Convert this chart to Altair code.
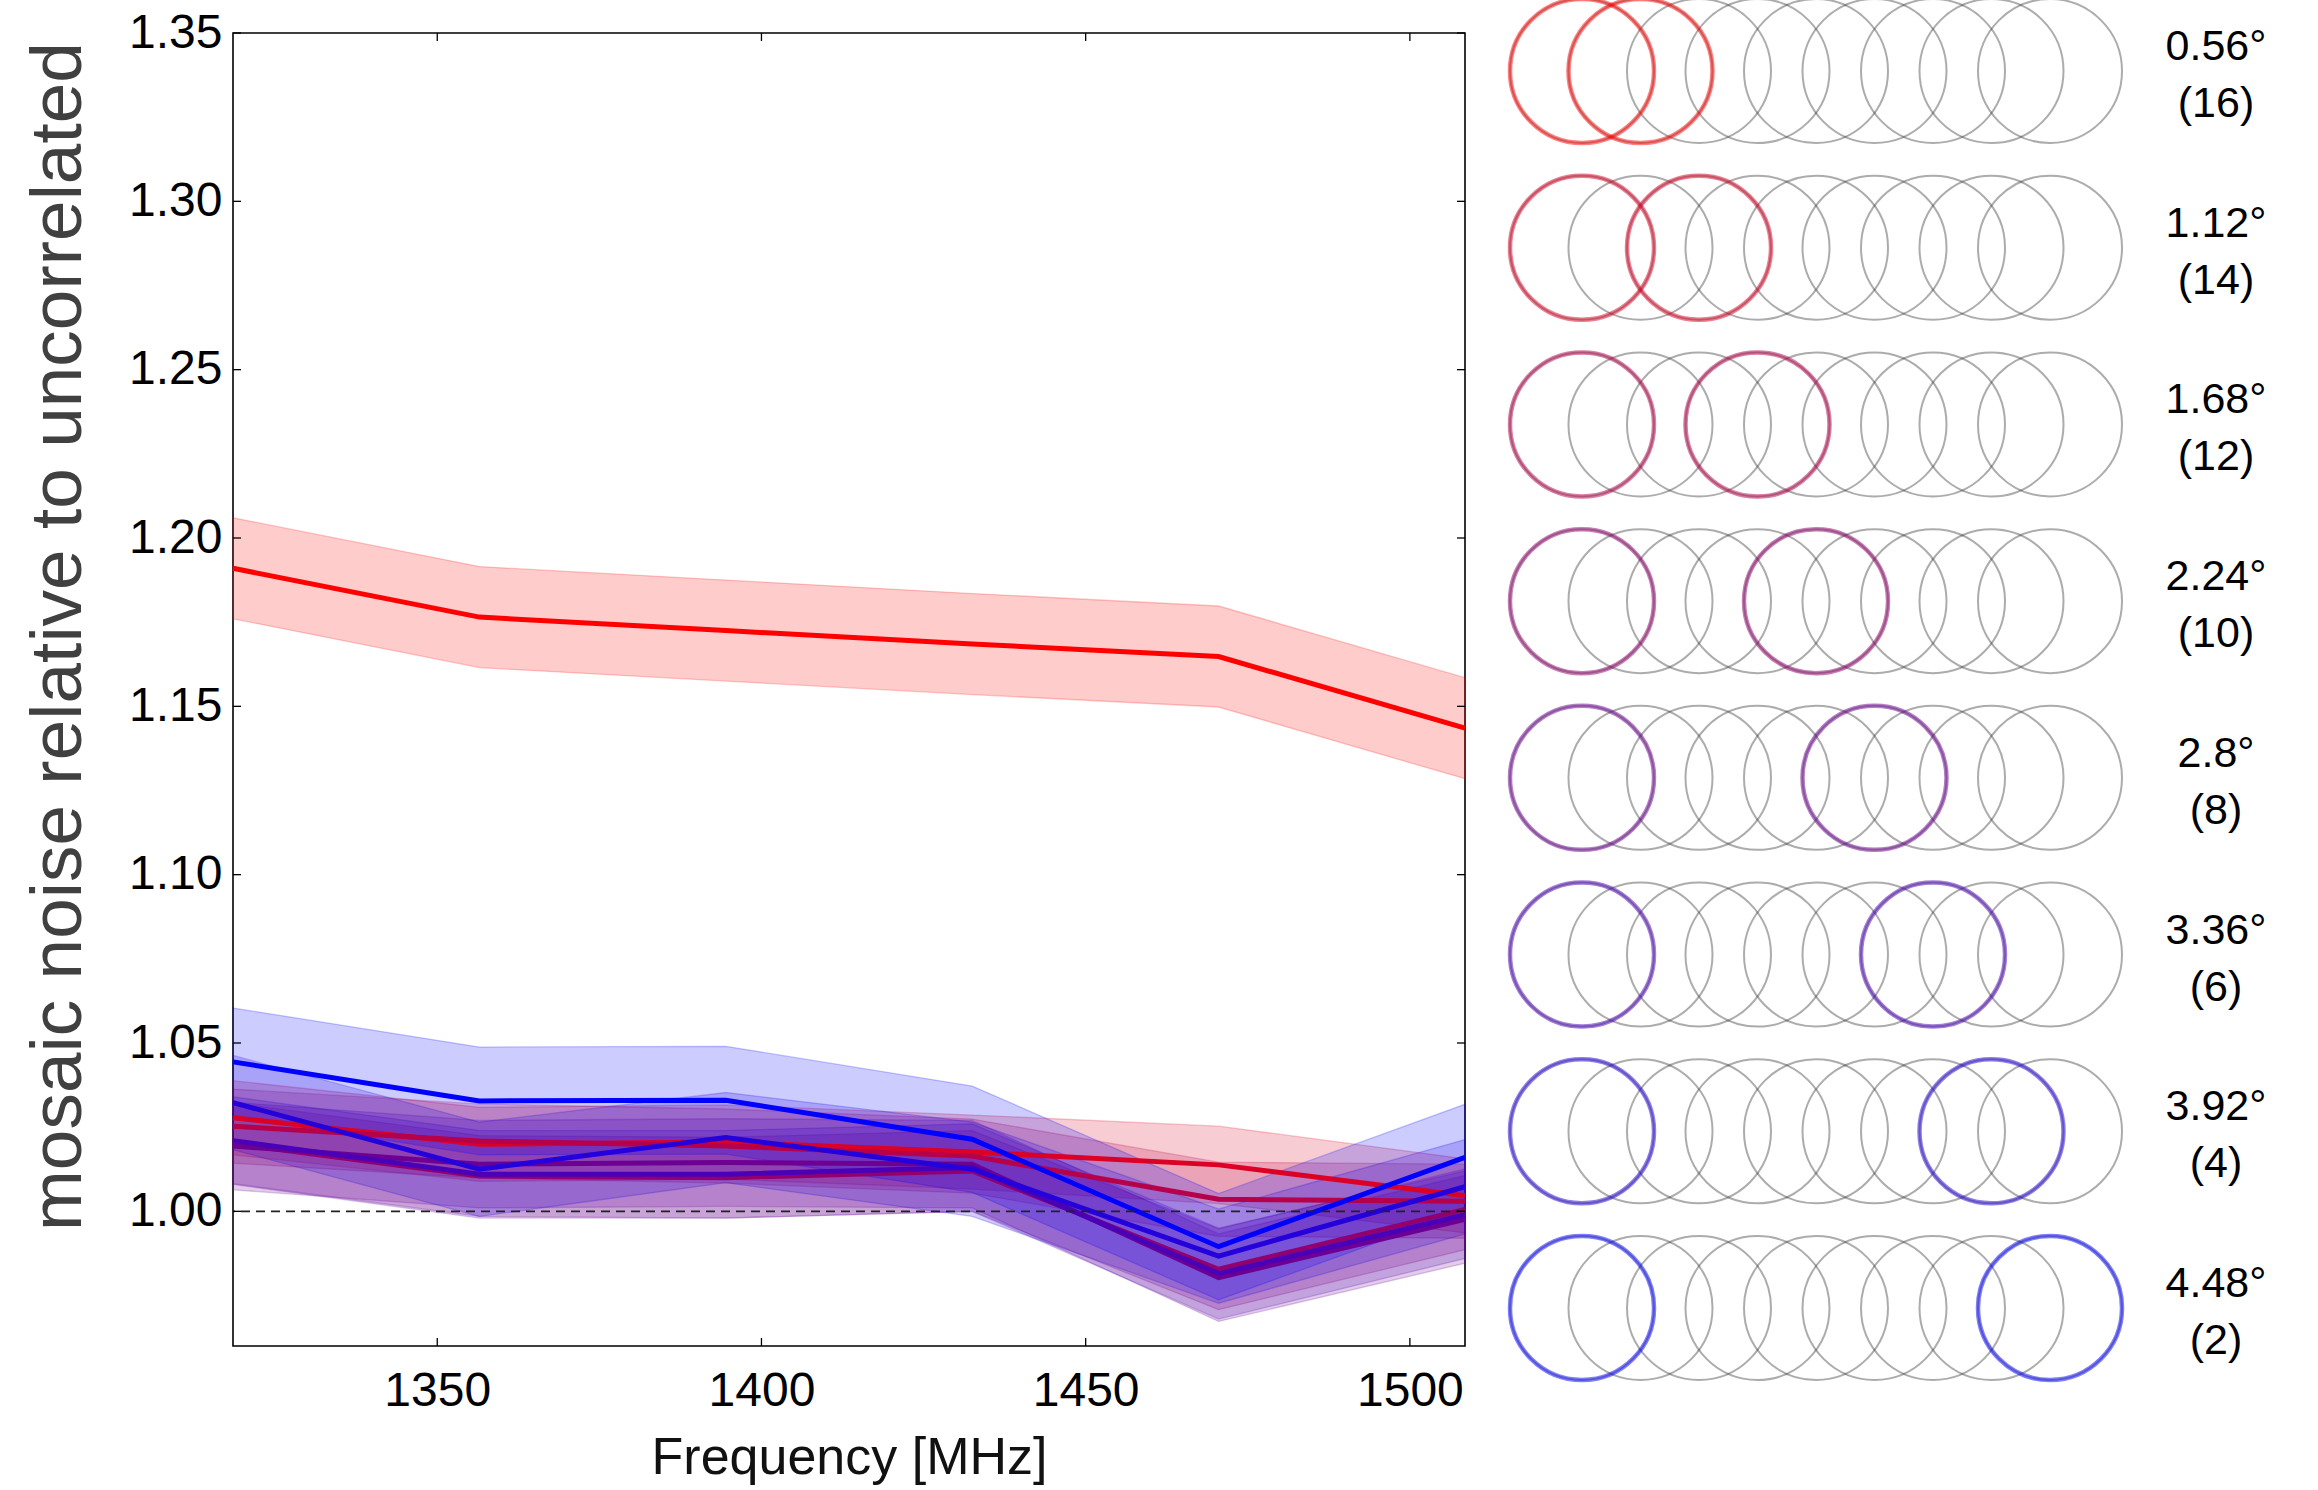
import altair as alt
import pandas as pd

# ---------------- data ----------------
freqs = [1318.5, 1356.5, 1394.5, 1432.5, 1470.5, 1508.5]

separations = ["0.56°", "1.12°", "1.68°", "2.24°", "2.8°", "3.36°", "3.92°", "4.48°"]
pointings = ["(16)", "(14)", "(12)", "(10)", "(8)", "(6)", "(4)", "(2)"]

series_colors = ["#ff0000", "#db0024", "#b60049", "#92006d",
                 "#6d0092", "#4900b6", "#2400db", "#0000ff"]

noise_056 = [1.191, 1.1765, 1.1725, 1.1685, 1.1648, 1.1435]
noise_112 = [1.0278, 1.0199, 1.0206, 1.0176, 1.0138, 1.0046]
noise_168 = [1.0253, 1.0209, 1.0194, 1.0164, 1.0036, 1.0030]
noise_224 = [1.0202, 1.0105, 1.0100, 1.0120, 0.9828, 1.0006]
noise_280 = [1.0194, 1.0140, 1.0145, 1.0140, 0.9803, 0.9976]
noise_336 = [1.0210, 1.0110, 1.0110, 1.0130, 0.9815, 0.9990]
noise_392 = [1.0323, 1.0125, 1.0219, 1.0125, 0.9867, 1.0073]
noise_448 = [1.0444, 1.0328, 1.0330, 1.0214, 0.9895, 1.0160]

err_056 = [0.015, 0.015, 0.015, 0.015, 0.015, 0.015]
err_112 = [0.011, 0.011, 0.011, 0.011, 0.0115, 0.011]
err_168 = [0.011, 0.011, 0.011, 0.011, 0.011, 0.011]
err_224 = [0.012, 0.012, 0.012, 0.012, 0.012, 0.012]
err_280 = [0.013, 0.013, 0.013, 0.013, 0.013, 0.013]
err_336 = [0.013, 0.013, 0.013, 0.013, 0.0135, 0.013]
err_392 = [0.014, 0.014, 0.0134, 0.014, 0.014, 0.014]
err_448 = [0.016, 0.016, 0.016, 0.0158, 0.0158, 0.0158]

noise_series = [noise_056, noise_112, noise_168, noise_224,
                noise_280, noise_336, noise_392, noise_448]
err_series = [err_056, err_112, err_168, err_224,
              err_280, err_336, err_392, err_448]

ytick_values = [1.00, 1.05, 1.10, 1.15, 1.20, 1.25, 1.30, 1.35]
xtick_values = [1350, 1400, 1450, 1500]
reference_level = [1.0]
n_beams = 9

# ---------------- tables ----------------
recs = []
for s, (vals, errs) in enumerate(zip(noise_series, err_series)):
    for f, v, e in zip(freqs, vals, errs):
        recs.append({"sep": separations[s], "order": s, "freq": f,
                     "noise": v, "lo": v - e, "hi": v + e})
df = pd.DataFrame(recs)

ytick_df = pd.DataFrame({"v": ytick_values})
xtick_df = pd.DataFrame({"f": xtick_values})
ref_df = pd.DataFrame({"v": reference_level})

circ_df = pd.DataFrame([{"row": r, "ci": i} for r in range(len(separations))
                        for i in range(n_beams)])
hl_df = pd.DataFrame([{"row": r, "ci": i, "sep": separations[r]}
                      for r in range(len(separations)) for i in (0, r + 1)])
lab_df = pd.DataFrame({"row": list(range(len(separations))),
                       "sep": separations, "count": pointings})

# ---------------- styles ----------------
FONT = "Liberation Sans"
W, H = 1232, 1313

xscale = alt.Scale(domain=[freqs[0], freqs[-1]], nice=False, zero=False)
yscale = alt.Scale(domain=[0.96, 1.35], nice=False, zero=False)
color = alt.Color("sep:N", scale=alt.Scale(domain=separations, range=series_colors),
                  legend=None)
stroke = alt.Stroke("sep:N", scale=alt.Scale(domain=separations, range=series_colors),
                    legend=None)

xaxis = alt.Axis(values=xtick_values, title="Frequency [MHz]", format="d",
                 labelPadding=21, titlePadding=17, labelFlush=False)
yaxis = alt.Axis(values=ytick_values, format=".2f",
                 title="mosaic noise relative to uncorrelated",
                 labelPadding=11, titlePadding=33, titleColor="#404040",
                 titleFontSize=73, titleY=603)

X = lambda f: alt.X(f, scale=xscale, axis=xaxis)
Y = lambda f: alt.Y(f, scale=yscale, axis=yaxis)

bands = alt.Chart(df).mark_area(fillOpacity=0.2, strokeOpacity=0.22,
                                strokeWidth=1.3).encode(
    x=X("freq:Q"), y=Y("lo:Q"), y2="hi:Q", color=color, stroke=stroke,
    order="order:Q")

lines = alt.Chart(df).mark_line(strokeWidth=5).encode(
    x=X("freq:Q"), y=Y("noise:Q"), color=color, order="freq:Q")

ref_line = alt.Chart(ref_df).mark_rule(strokeDash=[9, 6], strokeWidth=1.6,
                                       color="#222222").encode(y=Y("v:Q"))

tick_l = alt.Chart(ytick_df).mark_rule(color="black", strokeWidth=1.3).encode(
    y=Y("v:Q"), x=alt.value(0), x2=alt.value(8))
tick_r = alt.Chart(ytick_df).mark_rule(color="black", strokeWidth=1.3).encode(
    y=Y("v:Q"), x=alt.value(W - 8), x2=alt.value(W))
tick_b = alt.Chart(xtick_df).mark_rule(color="black", strokeWidth=1.3).encode(
    x=X("f:Q"), y=alt.value(H - 8), y2=alt.value(H))
tick_t = alt.Chart(xtick_df).mark_rule(color="black", strokeWidth=1.3).encode(
    x=X("f:Q"), y=alt.value(0), y2=alt.value(8))

left = alt.layer(bands, lines, ref_line, tick_l, tick_r, tick_b, tick_t)

# right-hand panel: beam diagrams
cx = alt.X("ci:Q", scale=alt.Scale(domain=[0, n_beams - 1], range=[1349, 1817]),
           axis=None)
cy = alt.Y("row:Q", scale=alt.Scale(domain=[0, len(separations) - 1], range=[38, 1275]),
           axis=None)

gray_circ = alt.Chart(circ_df).mark_point(shape="circle", filled=False, size=20736,
                                          strokeWidth=2, color="#333333",
                                          opacity=0.4).encode(x=cx, y=cy)
hl_circ = alt.Chart(hl_df).mark_point(shape="circle", filled=False, size=20736,
                                      strokeWidth=4.5, opacity=0.5).encode(
    x=cx, y=cy, color=color)
lab_top = alt.Chart(lab_df).mark_text(font=FONT, fontSize=43, align="center",
                                      baseline="middle", dy=-24,
                                      color="black").encode(
    y=cy, x=alt.value(1983), text="sep:N")
lab_bot = alt.Chart(lab_df).mark_text(font=FONT, fontSize=43, align="center",
                                      baseline="middle", dy=33,
                                      color="black").encode(
    y=cy, x=alt.value(1983), text="count:N")

right = alt.layer(gray_circ, hl_circ, lab_top, lab_bot)

chart = alt.layer(left, right).resolve_scale(
    x="independent", y="independent"
).properties(
    width=W, height=H,
    autosize=alt.AutoSizeParams(type="none"),
    padding={"left": 233, "top": 33, "right": 853, "bottom": 144},
    background="white",
).configure_view(
    stroke="black", strokeWidth=1.6
).configure_axis(
    domain=False, ticks=False, grid=False,
    labelFont=FONT, labelFontSize=48, labelColor="black",
    titleFont=FONT, titleFontSize=52, titleColor="#111111",
    titleFontWeight="normal",
)

chart.save("out.html", embed_options={"renderer": "svg", "actions": False})
